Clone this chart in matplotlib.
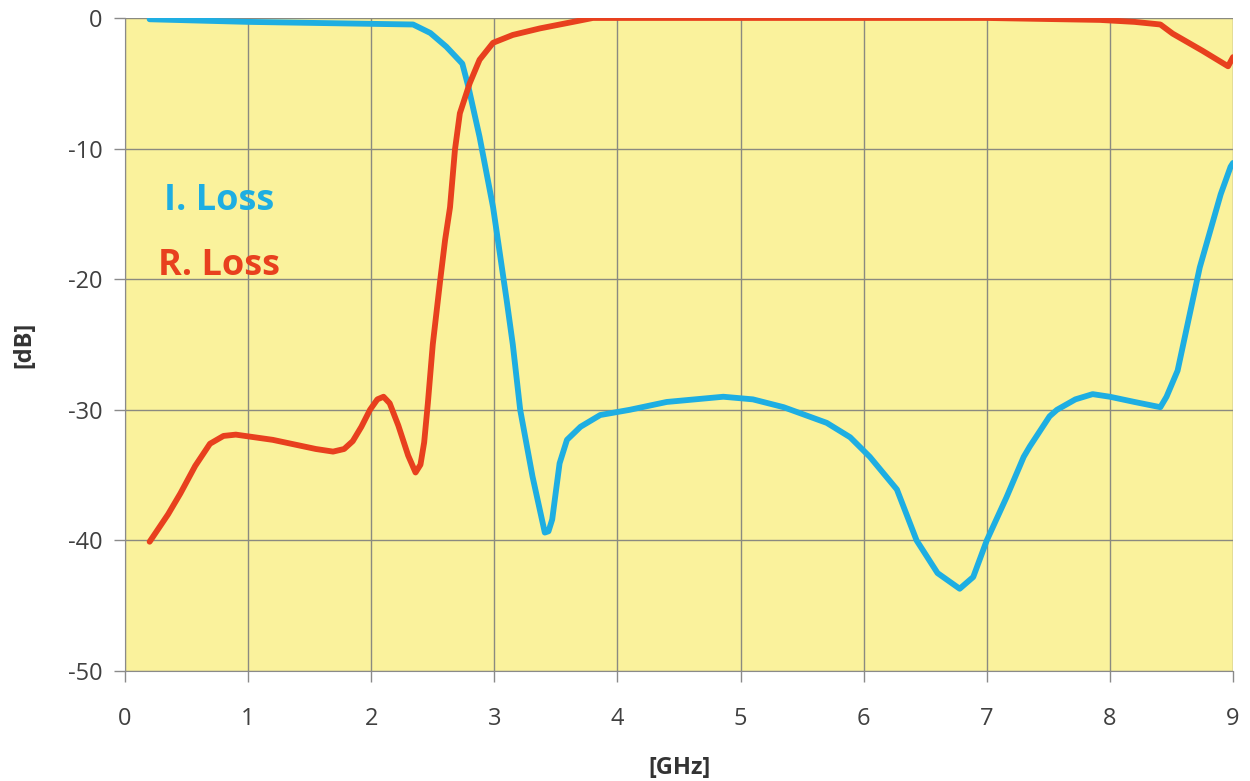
import matplotlib.pyplot as plt

plt.rcParams['font.family'] = ['Open Sans', 'DejaVu Sans']
plt.rcParams['axes.unicode_minus'] = False

# insertion loss (blue)
il_freq = [0.2, 1.0, 2.0, 2.34, 2.48, 2.61, 2.74, 2.79, 2.88, 2.99, 3.1, 3.15, 3.21,
           3.31, 3.41, 3.44, 3.47, 3.53, 3.59, 3.7, 3.86, 4.1, 4.4, 4.86, 5.1, 5.35,
           5.7, 5.89, 6.05, 6.27, 6.43, 6.6, 6.78, 6.89, 7.0, 7.16, 7.3, 7.35, 7.51,
           7.57, 7.72, 7.86, 8.0, 8.2, 8.41, 8.46, 8.55, 8.73, 8.9, 8.98, 9.0]
il_db = [-0.1, -0.3, -0.45, -0.5, -1.15, -2.2, -3.5, -5.3, -9.1, -14.5, -21.6, -25.0,
         -30.0, -35.1, -39.4, -39.3, -38.4, -34.1, -32.3, -31.3, -30.4, -30.0, -29.4,
         -29.0, -29.2, -29.8, -31.0, -32.1, -33.6, -36.1, -40.0, -42.5, -43.7, -42.8,
         -40.0, -36.7, -33.6, -32.8, -30.5, -30.0, -29.2, -28.8, -29.0, -29.4, -29.8,
         -29.0, -27.0, -19.1, -13.5, -11.4, -11.1]

# return loss (red)
rl_freq = [0.2, 0.35, 0.45, 0.57, 0.69, 0.8, 0.9, 1.05, 1.2, 1.4, 1.55, 1.69, 1.78,
           1.85, 1.92, 1.99, 2.05, 2.1, 2.15, 2.22, 2.3, 2.36, 2.4, 2.43, 2.46, 2.5,
           2.56, 2.6, 2.64, 2.68, 2.72, 2.8, 2.88, 2.99, 3.15, 3.37, 3.64, 3.8, 5.0,
           7.0, 7.92, 8.2, 8.41, 8.51, 8.75, 8.96, 9.0]
rl_db = [-40.1, -38.0, -36.4, -34.3, -32.6, -32.0, -31.9, -32.1, -32.3, -32.7, -33.0,
         -33.2, -33.0, -32.4, -31.3, -30.0, -29.2, -29.0, -29.5, -31.2, -33.5, -34.8,
         -34.2, -32.5, -29.5, -25.0, -20.1, -17.0, -14.5, -10.1, -7.3, -5.0, -3.2,
         -1.9, -1.3, -0.8, -0.3, 0.0, 0.0, 0.0, -0.15, -0.3, -0.5, -1.2, -2.5, -3.7,
         -3.0]

xticks = list(range(0, 10))
yticks = [0, -10, -20, -30, -40, -50]

fig = plt.figure(figsize=(12.5, 7.81), dpi=100)
ax = fig.add_axes([0.1, 0.1408, 0.8864, 0.8362])
ax.set_facecolor('#faf29c')

ax.plot(il_freq, il_db, color='#1eaee2', linewidth=4.2, solid_joinstyle='round',
        solid_capstyle='round', zorder=3)
ax.plot(rl_freq, rl_db, color='#e8401e', linewidth=4.2, solid_joinstyle='round',
        solid_capstyle='round', zorder=3)

ax.text(0.32, -14.0, 'I. Loss', color='#1eaee2', fontsize=26, fontweight='bold',
        va='center', ha='left')
ax.text(0.27, -19.0, 'R. Loss', color='#e8401e', fontsize=26, fontweight='bold',
        va='center', ha='left')

ax.set_xlim(0, 9)
ax.set_ylim(-50, 0)
ax.set_xticks(xticks)
ax.set_yticks(yticks)
ax.grid(True, color='#8a8a80', linewidth=1.0)
ax.set_axisbelow(True)
for s in ['top', 'right']:
    ax.spines[s].set_visible(False)
for s in ['left', 'bottom']:
    ax.spines[s].set_color('#8a8a8a')
ax.tick_params(axis='both', colors='#8a8a8a', length=8, width=1, labelsize=17,
               labelcolor='#404040')
ax.tick_params(axis='x', pad=18)
ax.tick_params(axis='y', pad=8)

ax.set_xlabel('[GHz]', fontsize=17, fontweight='bold', color='#333333', labelpad=18)
ax.set_ylabel('[dB]', fontsize=17, fontweight='bold', color='#333333', labelpad=23)

fig.savefig('out.png', dpi=100)
